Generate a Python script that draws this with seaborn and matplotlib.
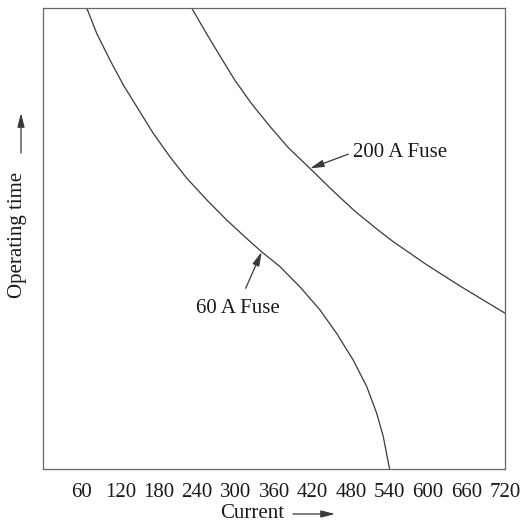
import matplotlib
matplotlib.use("Agg")
import matplotlib.pyplot as plt
import seaborn as sns
import pandas as pd

# Time-current characteristics (current in A, operating time in relative units)
current_60 = [67.7, 83.3, 104.0, 124.8, 145.7, 171.5, 197.6, 223.6, 254.8,
              286.0, 317.2, 340.6, 369.1, 400.3, 431.5, 457.5, 483.4, 504.3,
              519.9, 530.2, 540.0]
time_60 = [100.0, 94.5, 88.7, 83.3, 78.6, 72.8, 67.7, 63.1, 58.4,
           54.0, 50.0, 47.1, 43.9, 39.5, 34.5, 29.4, 23.6, 17.9,
           12.1, 7.0, 0.0]

current_200 = [231.4, 252.2, 272.9, 298.9, 325.0, 353.5, 382.1, 415.9, 449.7,
               486.1, 522.4, 545.8, 597.9, 649.8, 720.0]
time_200 = [100.0, 95.0, 90.2, 84.3, 79.2, 74.3, 69.7, 65.2, 60.6,
            55.9, 51.8, 49.3, 44.3, 39.7, 33.8]

x_ticks = [60, 120, 180, 240, 300, 360, 420, 480, 540, 600, 660, 720]

fuse_labels = ["60 A Fuse", "200 A Fuse"]

sns.set_theme(style="white")
plt.rcParams["font.family"] = ["Liberation Serif", "DejaVu Serif"]

df = pd.concat([
    pd.DataFrame({"current": current_60, "time": time_60, "fuse": fuse_labels[0]}),
    pd.DataFrame({"current": current_200, "time": time_200, "fuse": fuse_labels[1]}),
])

W, H = 526, 522
fig = plt.figure(figsize=(W / 100, H / 100), dpi=100)
ax = fig.add_axes([43.3 / W, 1 - 469 / H, (505 - 43.3) / W, (469 - 8) / H])

line_color = "#3a3a3a"
sns.lineplot(data=df, x="current", y="time", units="fuse", estimator=None,
             sort=False, color=line_color, linewidth=0.9, ax=ax, legend=False)

ax.set_xlim(0, 720)
ax.set_ylim(0, 100)
ax.set_xticks(x_ticks)
ax.set_xticklabels([str(t) for t in x_ticks], fontsize=15, color="#1a1a1a")
ax.set_yticks([])
ax.tick_params(axis="x", direction="in", length=3.5, width=0.8,
               color="#555555", pad=10)
ax.set_xlabel("")
ax.set_ylabel("")
for s in ax.spines.values():
    s.set_visible(True)
    s.set_color("#666666")
    s.set_linewidth(0.9)

arrow_kw = dict(arrowstyle="-|>,head_length=0.7,head_width=0.18",
                color=line_color, lw=0.9, shrinkA=0, shrinkB=0)

# Curve labels with pointers
ax.annotate("", xy=(415.9, 65.2), xytext=(475.6, 68.3), arrowprops=arrow_kw)
ax.text(483.4, 68.6, fuse_labels[1], ha="left", va="center", fontsize=15,
        color="#1a1a1a")
ax.annotate("", xy=(340.6, 47.1), xytext=(315.6, 39.2), arrowprops=arrow_kw)
ax.text(302.8, 34.9, fuse_labels[0], ha="center", va="center", fontsize=15,
        color="#1a1a1a")

# Axis titles with direction arrows
fig.text(252 / W, 8 / H, "Current", ha="center", va="center", fontsize=15,
         color="#1a1a1a")
ax.annotate("", xy=(335, 8), xytext=(293, 8), xycoords="figure pixels",
            textcoords="figure pixels", arrowprops=arrow_kw)
fig.text(18 / W, (H - 235) / H, "Operating time", ha="center", va="center",
         rotation=90, fontsize=15, color="#1a1a1a")
ax.annotate("", xy=(21, H - 113), xytext=(21, H - 153), xycoords="figure pixels",
            textcoords="figure pixels", arrowprops=arrow_kw)

fig.savefig("out.png", dpi=100)
